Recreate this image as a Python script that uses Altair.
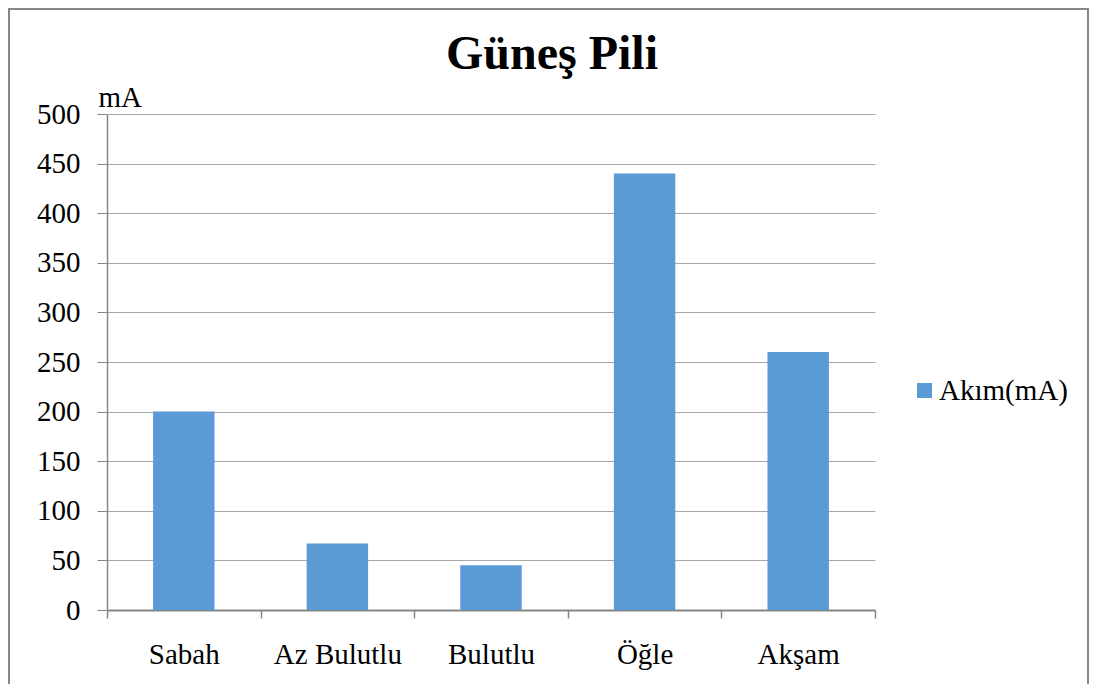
import altair as alt
import pandas as pd

# ---- data ----
categories = ["Sabah", "Az Bulutlu", "Bulutlu", "Öğle", "Akşam"]
values = [200, 67, 45, 440, 260]
series_name = "Akım(mA)"
y_ticks = [0, 50, 100, 150, 200, 250, 300, 350, 400, 450, 500]
chart_title = "Güneş Pili"
y_unit = "mA"

df = pd.DataFrame({
    "kategori": categories,
    "akim": values,
    "seri": [series_name] * len(categories),
})

FONT = "Liberation Serif"
BAR = "#5B9BD5"
AXIS_GRAY = "#868686"
GRID_GRAY = "#a6a6a6"
W, H = 768, 496
PAD = {"left": 99, "top": 106, "right": 214, "bottom": 74}

bars = alt.Chart(df).mark_bar(width={"band": 0.4}).encode(
    x=alt.X(
        "kategori:N",
        sort=categories,
        scale=alt.Scale(paddingInner=0, paddingOuter=0),
        axis=alt.Axis(
            title=None,
            labelAngle=0,
            labelFont=FONT,
            labelFontSize=29,
            labelColor="black",
            labelBaseline="alphabetic",
            labelPadding=45,
            tickBand="extent",
            tickSize=8,
            tickColor=AXIS_GRAY,
            tickWidth=1.5,
            domainColor=AXIS_GRAY,
            domainWidth=2,
            grid=False,
        ),
    ),
    y=alt.Y(
        "akim:Q",
        scale=alt.Scale(domain=[0, 500], nice=False),
        axis=alt.Axis(
            values=y_ticks,
            title=y_unit,
            titleAngle=0,
            titleAlign="left",
            titleBaseline="alphabetic",
            titleX=-9,
            titleY=-8,
            titleFont=FONT,
            titleFontSize=29,
            titleFontWeight="normal",
            titleColor="black",
            labelFont=FONT,
            labelFontSize=29,
            labelColor="black",
            labelPadding=17,
            tickSize=10,
            tickColor=AXIS_GRAY,
            tickWidth=1,
            domainColor=AXIS_GRAY,
            domainWidth=1.5,
            grid=True,
            gridColor=GRID_GRAY,
            gridWidth=1,
        ),
    ),
    color=alt.Color(
        "seri:N",
        scale=alt.Scale(domain=[series_name], range=[BAR]),
        legend=alt.Legend(
            title=None,
            orient="none",
            legendX=803,
            legendY=262,
            symbolType="square",
            symbolSize=225,
            symbolStrokeWidth=0,
            labelFont=FONT,
            labelFontSize=29,
            labelColor="black",
            labelOffset=0,
        ),
    ),
)

frame = alt.Chart(pd.DataFrame({"f": [0]})).mark_rect(
    fillOpacity=0, stroke="#878787", strokeWidth=2
).encode(
    x=alt.value(-98),
    x2=alt.value(W + PAD["right"] - 1),
    y=alt.value(-105),
    y2=alt.value(H + PAD["bottom"] + 30),
)

title = alt.Chart(pd.DataFrame({"t": [chart_title]})).mark_text(
    font=FONT,
    fontSize=48,
    fontWeight="bold",
    color="black",
    align="center",
    baseline="alphabetic",
).encode(
    text="t:N",
    x=alt.value(445),
    y=alt.value(-45),
)

chart = alt.layer(frame, bars, title).properties(
    width=W,
    height=H,
    padding=PAD,
    autosize=alt.AutoSizeParams(type="none"),
    background="white",
).configure(
    font=FONT,
).configure_axis(
    labelFont=FONT,
    titleFont=FONT,
).configure_legend(
    labelFont=FONT,
).configure_view(strokeOpacity=0)

chart.save("out.html", embed_options={"renderer": "svg", "actions": False})
